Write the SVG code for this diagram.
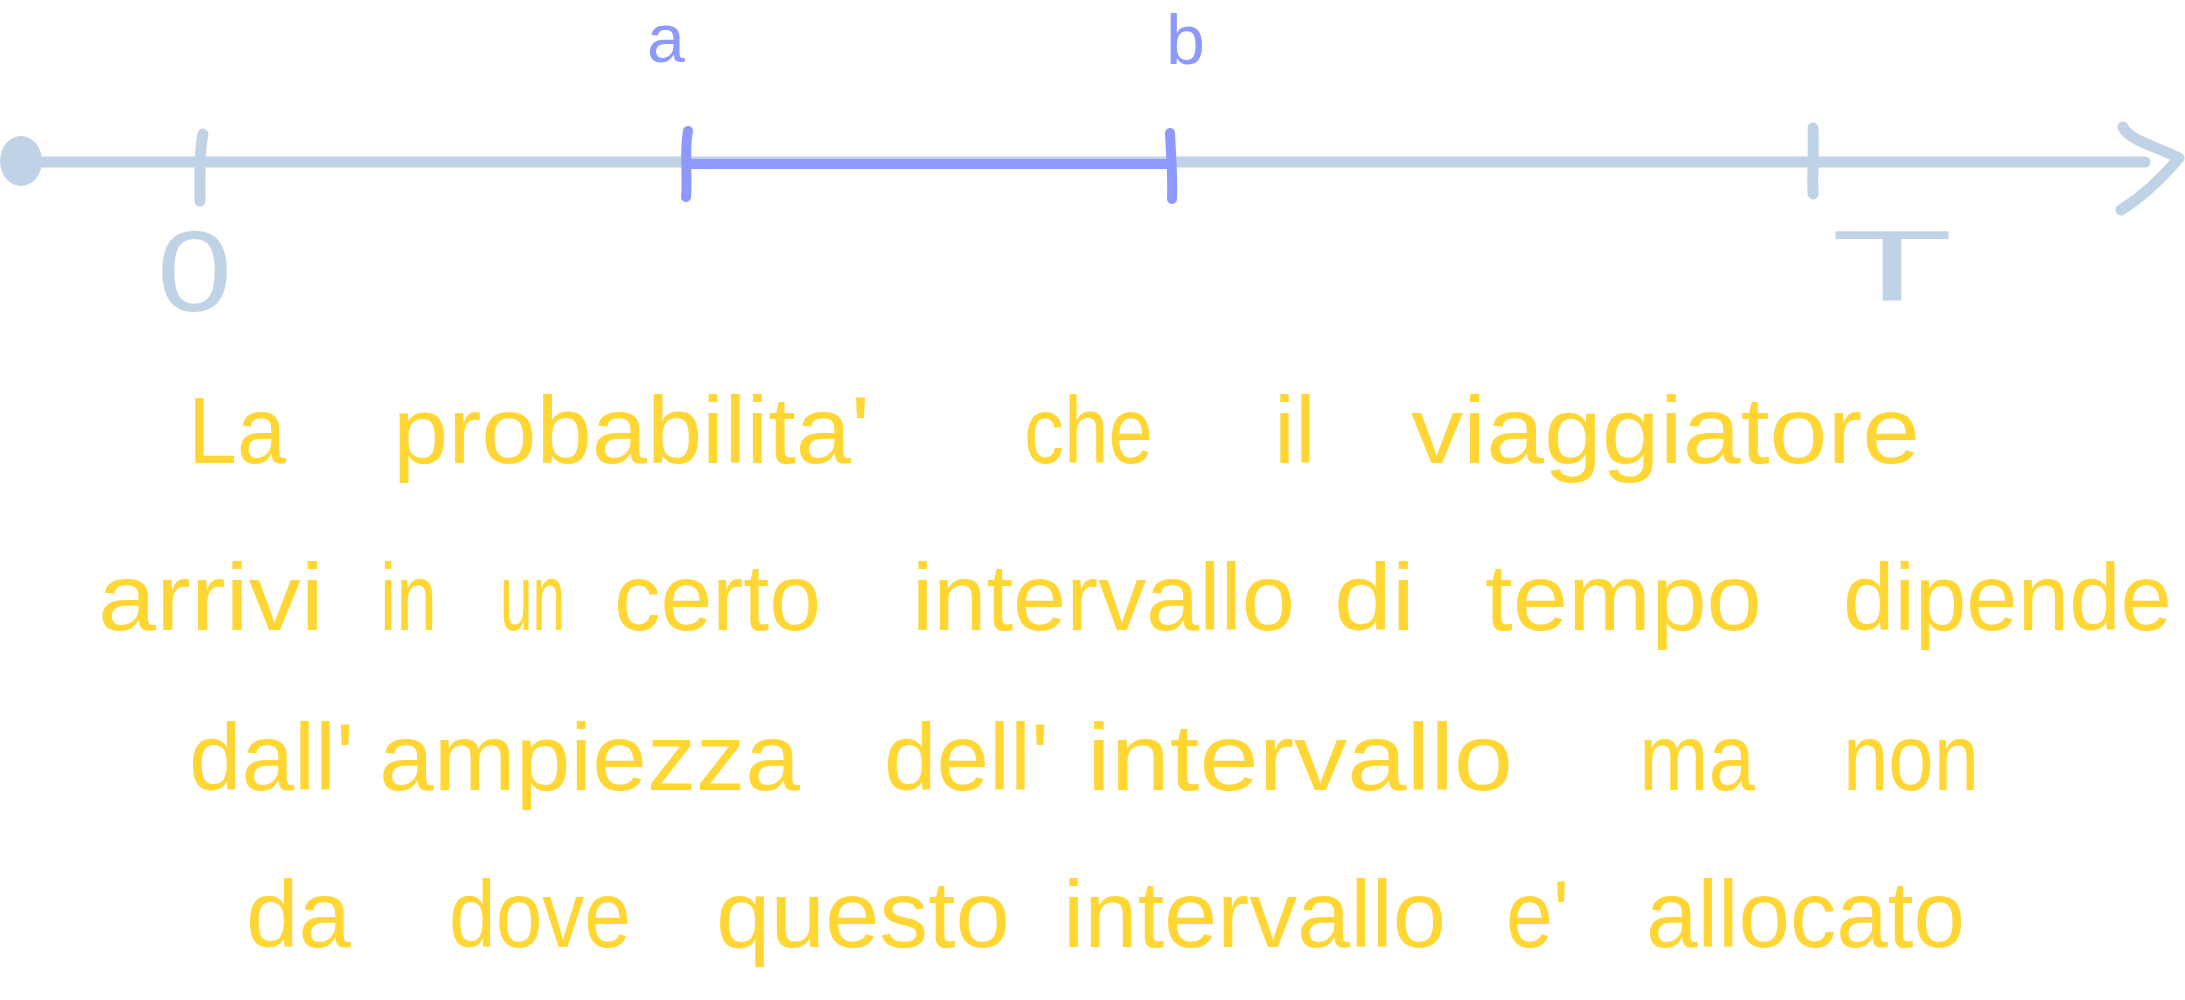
<svg xmlns="http://www.w3.org/2000/svg" width="2185" height="1000" viewBox="0 0 2185 1000">
<style>
.ax{stroke:#c0d3e6;stroke-width:11;stroke-linecap:round;stroke-linejoin:round;fill:none}
.iv{stroke:#8e99ff;stroke-width:10;stroke-linecap:round;fill:none}
.lb{font-family:"Liberation Sans",Arial,sans-serif;fill:#c0d3e6}
.lbv{font-family:"Liberation Sans",Arial,sans-serif;fill:#8e99ff}
.tx{font-family:"Liberation Sans",Arial,sans-serif;font-size:95px;fill:#ffd633}
</style>
<rect width="2185" height="1000" fill="#ffffff"/>
<g id="connectors">
<path class="ax" d="M20,162 L2145,162"/>
<ellipse cx="21" cy="161" rx="21" ry="25" fill="#c0d3e6"/>
<path class="ax" d="M2123,127 C2128,140 2160,148 2179,158 C2162,178 2145,195 2121,210"/>
<path class="iv" d="M687,164 L1171,164"/>
</g>
<g id="tick-0"><path class="ax" d="M203,134 C199,150 200,180 200,201"/>
<text class="lb" x="157" y="311" font-size="115" textLength="75" lengthAdjust="spacingAndGlyphs" font-family="DejaVu Sans Mono">0</text></g>
<g id="tick-a"><path class="iv" d="M688,131 C684,150 688,178 686,197"/>
<text class="lbv" x="666" y="62" font-size="68" text-anchor="middle">a</text></g>
<g id="tick-b"><path class="iv" d="M1170,133 C1171,155 1173,180 1172,199"/>
<text class="lbv" x="1166" y="64" font-size="70">b</text></g>
<g id="tick-T"><path class="ax" d="M1813,128 C1814,150 1812,175 1813,194"/>
<text class="lb" x="1831" y="300" font-size="100" textLength="122" lengthAdjust="spacingAndGlyphs">T</text></g>
<g id="text">
<text class="tx" y="463"><tspan x="188" textLength="98" lengthAdjust="spacingAndGlyphs">La</tspan> <tspan x="393" textLength="477" lengthAdjust="spacingAndGlyphs">probabilita'</tspan> <tspan x="1024" textLength="129" lengthAdjust="spacingAndGlyphs">che</tspan> <tspan x="1274" textLength="42" lengthAdjust="spacingAndGlyphs">il</tspan> <tspan x="1411" textLength="509" lengthAdjust="spacingAndGlyphs">viaggiatore</tspan></text>
<text class="tx" y="630"><tspan x="98" textLength="226" lengthAdjust="spacingAndGlyphs">arrivi</tspan> <tspan x="380" textLength="57" lengthAdjust="spacingAndGlyphs">in</tspan> <tspan x="500" textLength="65" lengthAdjust="spacingAndGlyphs">un</tspan> <tspan x="614" textLength="207" lengthAdjust="spacingAndGlyphs">certo</tspan> <tspan x="912" textLength="383" lengthAdjust="spacingAndGlyphs">intervallo</tspan> <tspan x="1334" textLength="81" lengthAdjust="spacingAndGlyphs">di</tspan> <tspan x="1485" textLength="277" lengthAdjust="spacingAndGlyphs">tempo</tspan> <tspan x="1843" textLength="329" lengthAdjust="spacingAndGlyphs">dipende</tspan></text>
<text class="tx" y="790"><tspan x="189" textLength="165" lengthAdjust="spacingAndGlyphs">dall'</tspan><tspan x="379" textLength="421" lengthAdjust="spacingAndGlyphs">ampiezza</tspan> <tspan x="884" textLength="165" lengthAdjust="spacingAndGlyphs">dell'</tspan><tspan x="1087" textLength="426" lengthAdjust="spacingAndGlyphs">intervallo</tspan> <tspan x="1639" textLength="116" lengthAdjust="spacingAndGlyphs">ma</tspan> <tspan x="1843" textLength="136" lengthAdjust="spacingAndGlyphs">non</tspan></text>
<text class="tx" y="947"><tspan x="246" textLength="105" lengthAdjust="spacingAndGlyphs">da</tspan> <tspan x="449" textLength="182" lengthAdjust="spacingAndGlyphs">dove</tspan> <tspan x="716" textLength="294" lengthAdjust="spacingAndGlyphs">questo</tspan> <tspan x="1063" textLength="383" lengthAdjust="spacingAndGlyphs">intervallo</tspan> <tspan x="1506" textLength="63" lengthAdjust="spacingAndGlyphs">e'</tspan> <tspan x="1646" textLength="319" lengthAdjust="spacingAndGlyphs">allocato</tspan></text>
</g>
</svg>
